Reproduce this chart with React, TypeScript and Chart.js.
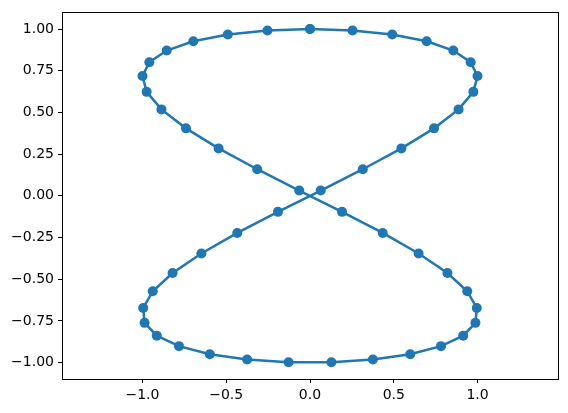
import React, { useEffect, useRef } from "react";
import { Chart, registerables } from "chart.js";

Chart.register(...registerables);

const xValues = [0, 0.2537, 0.4907, 0.6963, 0.8551, 0.9587, 0.9995, 0.9749, 0.8866, 0.7402, 0.5455, 0.3151, 0.0641, -0.1912, -0.4339, -0.6482, -0.8201, -0.9385, -0.9954, -0.9872, -0.9145, -0.7818, -0.5981, -0.3752, -0.1279, 0.1279, 0.3752, 0.5981, 0.7818, 0.9145, 0.9872, 0.9954, 0.9385, 0.8201, 0.6482, 0.4339, 0.1912, -0.0641, -0.3151, -0.5455, -0.7402, -0.8866, -0.9749, -0.9995, -0.9587, -0.8551, -0.6963, -0.4907, -0.2537, 0];
const yValues = [1, 0.9918, 0.9673, 0.9269, 0.8713, 0.8015, 0.7185, 0.6235, 0.5183, 0.4047, 0.2845, 0.1596, 0.032, -0.096, -0.2225, -0.3453, -0.4625, -0.5721, -0.6723, -0.7615, -0.8381, -0.901, -0.9491, -0.9816, -0.9979, -0.9979, -0.9816, -0.9491, -0.901, -0.8381, -0.7615, -0.6723, -0.5721, -0.4625, -0.3453, -0.2225, -0.096, 0.032, 0.1596, 0.2845, 0.4047, 0.5183, 0.6235, 0.7185, 0.8015, 0.8713, 0.9269, 0.9673, 0.9918, 1];
const xTicks = [-1.0, -0.5, 0.0, 0.5, 1.0];
const yTicks = [-1.0, -0.75, -0.5, -0.25, 0.0, 0.25, 0.5, 0.75, 1.0];

const fmt = (v: number, d: number) => {
  const s = Math.abs(v).toFixed(d);
  return v < -1e-9 ? "\u2212" + s : s;
};

const frame = {
  id: "frame",
  afterDraw(chart: any) {
    const { ctx, chartArea: a } = chart;
    ctx.save();
    ctx.strokeStyle = "#000";
    ctx.lineWidth = 1;
    ctx.strokeRect(Math.round(a.left) + 0.5, Math.round(a.top) + 0.5, Math.round(a.right - a.left), Math.round(a.bottom - a.top));
    ctx.restore();
  },
};

export default function App() {
  const ref = useRef<HTMLCanvasElement>(null);
  useEffect(() => {
    const data = xValues.map((x, i) => ({ x, y: yValues[i] }));
    const font = { family: "'DejaVu Sans'", size: 14 };
    const chart = new Chart(ref.current!, {
      type: "scatter",
      data: {
        datasets: [
          {
            data,
            showLine: true,
            borderColor: "#1f77b4",
            backgroundColor: "#1f77b4",
            borderWidth: 2.5,
            pointRadius: 5,
            pointBorderWidth: 0,
            pointHoverRadius: 5,
          },
        ],
      },
      options: {
        animation: false,
        responsive: false,
        devicePixelRatio: 1,
        layout: { padding: { top: 10, right: 10, left: 0, bottom: 0 } },
        plugins: { legend: { display: false }, tooltip: { enabled: false } },
        scales: {
          x: {
            type: "linear",
            min: -1.48,
            max: 1.48,
            afterBuildTicks: (s: any) => { s.ticks = xTicks.map((v) => ({ value: v })); },
            afterFit: (s: any) => { s.height = 34; },
            ticks: { color: "#000", font, padding: 4, maxRotation: 0, callback: (v: any) => fmt(Number(v), 1) },
            grid: { drawOnChartArea: false, drawTicks: true, tickLength: 4, color: "#000", tickWidth: 1 },
            border: { display: false },
          },
          y: {
            type: "linear",
            min: -1.098,
            max: 1.0999,
            afterBuildTicks: (s: any) => { s.ticks = yTicks.map((v) => ({ value: v })); },
            afterFit: (s: any) => { s.width = 62; },
            ticks: { color: "#000", font, padding: 4, callback: (v: any) => fmt(Number(v), 2) },
            grid: { drawOnChartArea: false, drawTicks: true, tickLength: 4, color: "#000", tickWidth: 1 },
            border: { display: false },
          },
        },
      },
      plugins: [frame],
    } as any);
    return () => chart.destroy();
  }, []);
  return (
    <div style={{ position: "fixed", left: 0, top: 0, width: 568, height: 413, background: "#fff" }}>
      <canvas ref={ref} width={568} height={413} style={{ width: 568, height: 413, display: "block" }} />
    </div>
  );
}
